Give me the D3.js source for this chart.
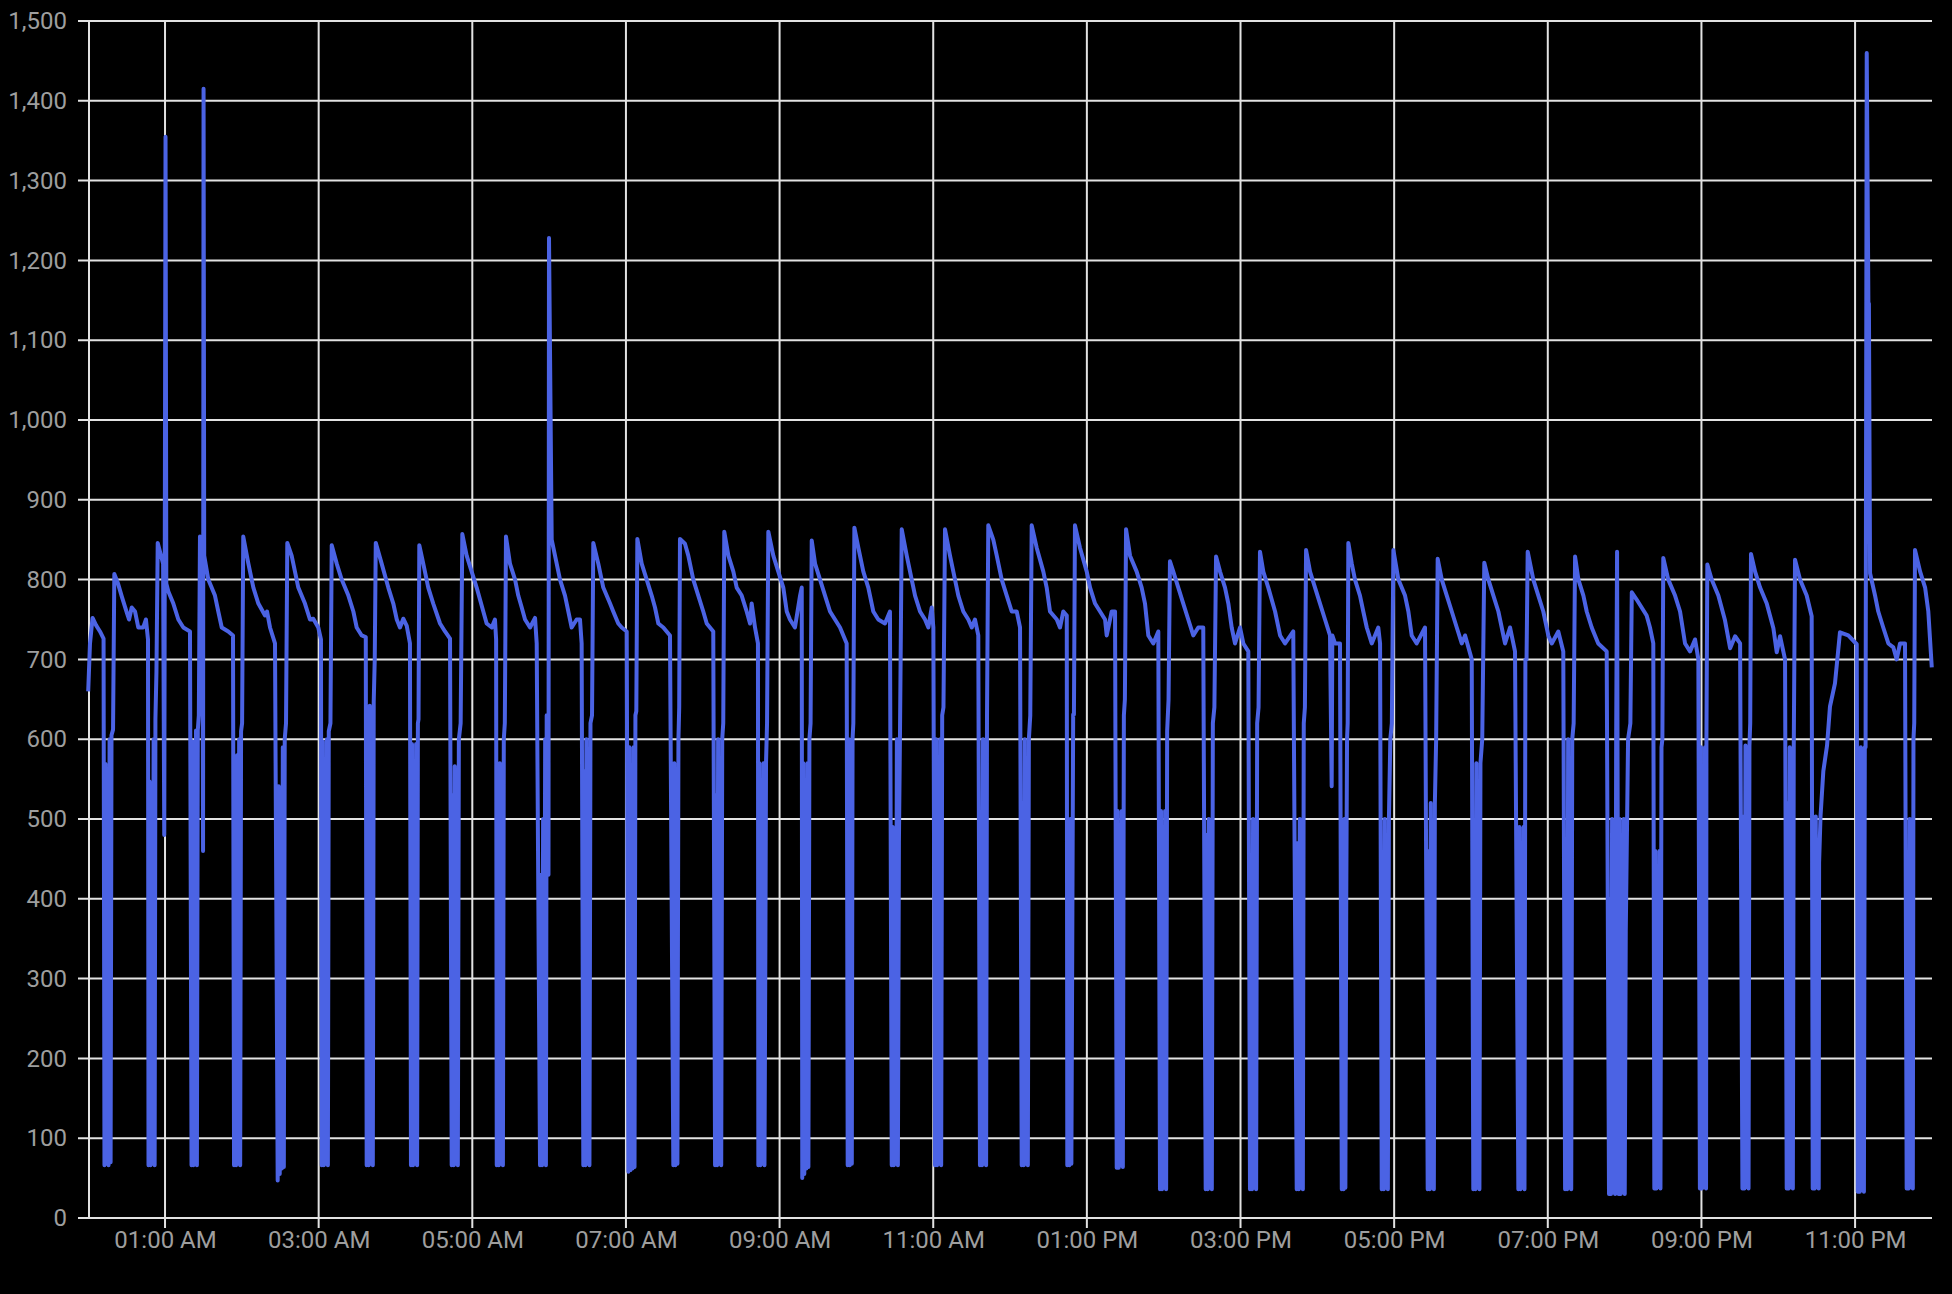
<!DOCTYPE html>
<html><head><meta charset="utf-8">
<script src="https://cdn.jsdelivr.net/npm/d3@7"></script>
<style>
html,body{margin:0;padding:0;background:#000;}
svg{display:block;}
text{font-family:Roboto,"Noto Sans",sans-serif;}
</style></head><body>
<svg id="chart" width="1952" height="1294"></svg>
<script>
// y-axis tick values
const yTicks = [0,100,200,300,400,500,600,700,800,900,1000,1100,1200,1300,1400,1500];
// x-axis ticks (minutes since midnight) and their labels
const xTickMinutes = [60,180,300,420,540,660,780,900,1020,1140,1260,1380];
const xTickLabels = ["01:00 AM","03:00 AM","05:00 AM","07:00 AM","09:00 AM","11:00 AM","01:00 PM","03:00 PM","05:00 PM","07:00 PM","09:00 PM","11:00 PM"];
// time domain (minutes) and value domain
const timeDomain = [0,1440];
const valueDomain = [0,1500];
// readings: [minute of day, value]
const readings = [
[0,660],[1.4,720],[3.4,752],[6.1,743],[9.2,735],[12.0,726],
[12.7,66],[13.5,569],[14.3,68],[15.1,400],[15.9,66],[16.7,600],[17.5,70],[18.2,605],[19.4,612],[20.4,807],
[23.3,795],[26.2,779],[30.1,759],[31.9,750],[34.0,765],[36.6,760],[39.1,740],[43.0,740],[45.1,750],[46.7,725],
[47.1,66],[47.9,547],[48.7,66],[49.5,450],[50.3,68],[51.1,600],[51.9,66],[52.5,625],[53.3,684],[54.3,846],
[56.9,830],[58.5,820],[59.4,480],[60.4,1355],[61.0,795],[62.6,785],[66.5,770],[70.4,750],[74.3,740],[79.5,735],
[80.7,66],[81.4,597],[82.1,66],[82.8,500],[83.5,68],[84.2,611],[84.9,66],[85.6,611],[86.4,630],[87.3,854],
[89.3,850],[89.7,460],[90.1,1415],[90.6,830],[93.8,800],[99.0,780],[101.6,760],[104.3,740],[109.4,735],[113.1,730],
[113.9,66],[114.7,513],[115.5,66],[116.3,580],[117.1,68],[117.9,600],[118.7,66],[119.4,610],[120.2,620],[121.1,854],
[125.1,820],[129.0,790],[132.9,770],[138.1,755],[139.7,760],[142.0,740],[145.9,720],
[148.0,47],[148.8,541],[149.6,55],[150.4,480],[151.2,62],[152.0,590],[152.8,64],[153.5,600],[154.5,620],[155.5,846],
[158.9,830],[164.1,790],[169.3,770],[173.2,750],[175.8,751],[179.7,740],[181.8,725],
[182.4,66],[183.2,597],[184.0,66],[184.8,500],[185.6,68],[186.4,600],[187.2,66],[187.9,610],[189.2,620],[190.2,843],
[194.1,820],[198.0,800],[203.2,780],[207.1,760],[209.7,740],[213.6,730],[216.8,728],
[217.5,66],[218.3,570],[219.1,66],[219.9,642],[220.7,68],[221.5,600],[222.3,66],[223.0,647],[223.8,700],[224.6,846],
[229.2,820],[234.4,790],[238.3,770],[241.0,750],[243.5,740],[246.1,751],[248.8,742],[251.3,720],
[252.1,66],[252.9,594],[253.7,66],[254.5,480],[255.3,68],[256.1,594],[256.9,66],[257.5,620],[258.0,625],[258.6,843],
[261.7,820],[265.6,790],[269.5,770],[274.8,745],[278.7,735],[282.6,726],
[283.9,66],[284.7,530],[285.5,66],[286.3,566],[287.1,68],[287.9,520],[288.7,66],[289.5,600],[290.9,620],[292.2,857],
[295.6,830],[299.5,810],[303.4,790],[308.6,760],[311.2,745],[315.2,740],[317.7,750],[318.6,725],
[319.1,66],[319.9,500],[320.7,66],[321.5,570],[322.3,68],[323.1,480],[323.9,66],[324.6,600],[325.4,620],[326.3,854],
[329.4,820],[333.4,800],[335.9,780],[338.6,765],[341.2,750],[345.1,740],[349.0,752],[350.3,720],
[352.9,66],[353.7,430],[354.5,66],[355.3,500],[356.1,68],[356.9,600],[357.5,66],[358.1,630],[359.5,430],[359.9,1228],
[362.0,850],[364.6,830],[368.5,800],[372.4,780],[375.0,760],[377.6,740],[381.5,750],[384.1,750],[385.4,720],
[386.7,66],[387.5,560],[388.3,66],[389.1,600],[389.9,68],[390.7,520],[391.5,66],[392.3,620],[393.5,630],[394.5,846],
[398.4,820],[402.3,790],[407.6,770],[410.1,760],[414.0,745],[416.7,740],[420.6,735],
[421.9,58],[422.7,590],[423.5,60],[424.3,500],[425.1,62],[425.9,590],[426.7,64],[427.4,630],[428.1,635],[428.9,851],
[432.3,820],[436.2,800],[440.1,780],[442.7,765],[445.3,745],[449.2,740],[454.4,730],
[457.0,66],[457.8,570],[458.6,66],[459.4,500],[460.2,68],[461.0,600],[461.6,640],[462.2,851],
[466.1,845],[468.7,830],[472.6,800],[476.5,780],[480.4,760],[483.1,745],[488.2,735],
[489.6,66],[490.4,530],[491.2,66],[492.0,600],[492.8,68],[493.6,500],[494.4,66],[495.2,600],[496.0,620],[496.8,860],
[500.0,830],[503.9,810],[506.5,790],[510.4,780],[514.3,760],[516.9,745],[518.2,770],[520.8,740],[523.1,720],
[523.4,66],[524.2,570],[525.0,66],[525.8,337],[526.6,68],[527.4,570],[528.2,66],[528.9,337],[529.4,570],[530.2,620],[531.2,860],
[535.1,830],[539.0,810],[542.9,790],[545.6,760],[548.1,750],[552.0,740],[556.0,780],[557.3,790],
[557.7,50],[558.5,570],[559.3,55],[560.1,480],[560.9,62],[561.7,570],[562.5,64],[563.3,600],[564.2,620],[565.1,849],
[567.7,820],[571.6,800],[575.5,780],[579.4,760],[583.3,750],[587.2,740],[592.4,720],
[593.2,66],[594.0,600],[594.8,66],[595.6,500],[596.4,68],[597.0,600],[597.6,620],[598.4,865],
[601.5,840],[605.4,810],[609.3,790],[613.2,760],[617.1,750],[622.3,745],[626.2,760],
[627.6,66],[628.4,490],[629.2,66],[630.0,470],[630.8,68],[631.6,600],[632.4,66],[633.2,470],[634.0,600],[635.4,863],
[639.3,830],[643.2,800],[645.8,780],[649.7,760],[653.6,750],[656.2,740],[658.8,765],[660.1,740],
[661.4,66],[662.2,600],[663.0,66],[663.8,500],[664.6,68],[665.4,600],[666.2,66],[667.0,630],[668.0,640],[669.2,863],
[673.1,830],[677.0,800],[679.6,780],[683.5,760],[687.4,750],[690.1,740],[692.6,750],[695.2,730],
[696.5,66],[697.3,500],[698.1,66],[698.9,600],[699.7,68],[700.5,500],[701.3,66],[702.0,630],[703.0,868],
[706.9,850],[709.6,830],[713.5,800],[717.4,780],[721.3,760],[725.2,760],[727.8,740],
[729.1,66],[729.9,520],[730.7,66],[731.5,600],[732.3,68],[733.1,520],[733.9,66],[734.7,600],[735.8,630],[736.9,868],
[740.8,840],[746.0,810],[748.6,790],[751.2,760],[756.5,750],[759.0,740],[761.6,760],[764.3,755],
[764.7,66],[765.5,470],[766.3,66],[767.1,500],[767.9,68],[768.7,385],[769.3,631],[769.9,631],[770.7,868],
[774.6,840],[779.9,810],[782.5,790],[786.4,770],[790.3,760],[794.2,750],[795.5,730],[799.4,760],[802.0,760],
[803.3,63],[804.1,510],[804.9,63],[805.7,400],[806.5,66],[807.3,510],[808.1,64],[808.9,630],[809.7,650],[810.6,863],
[813.7,830],[818.9,810],[822.8,790],[825.4,770],[828.0,730],[831.9,720],[835.8,735],
[837.1,36],[837.9,510],[838.7,36],[839.5,420],[840.3,38],[841.1,510],[841.9,36],[842.7,610],[843.8,650],[844.9,823],
[847.5,810],[851.4,790],[855.3,770],[859.2,750],[863.1,730],[867.0,740],[870.9,740],
[872.8,36],[873.6,480],[874.4,36],[875.2,500],[876.0,38],[876.8,400],[877.6,36],[878.4,620],[879.6,640],[880.9,829],
[884.0,810],[887.9,790],[890.5,770],[893.1,740],[895.7,720],[899.6,740],[902.2,720],[906.1,710],
[907.4,36],[908.2,400],[909.0,36],[909.8,500],[910.6,38],[911.4,400],[912.2,36],[913.0,620],[914.1,640],[915.2,835],
[917.8,810],[921.7,790],[927.0,760],[930.9,730],[934.8,720],[941.2,735],
[943.9,36],[944.7,470],[945.5,36],[946.3,500],[947.1,38],[947.9,470],[948.7,36],[949.4,620],[950.3,640],[951.2,837],
[954.3,810],[958.2,790],[962.1,770],[966.0,750],[969.9,730],[971.2,541],[971.7,730],[973.8,720],[977.7,720],
[979.1,36],[979.8,400],[980.5,36],[981.2,500],[981.9,38],[982.6,400],[983.2,600],[983.7,620],[984.2,846],
[986.9,820],[989.4,800],[993.3,780],[995.9,760],[998.6,740],[1002.5,720],[1007.6,740],[1009.0,720],
[1010.3,36],[1011.1,450],[1011.9,36],[1012.7,500],[1013.5,38],[1014.3,450],[1015.1,36],[1015.9,500],[1017.0,600],[1018.2,620],[1019.4,837],
[1023.3,800],[1028.5,780],[1031.1,760],[1033.7,730],[1037.6,720],[1044.1,740],
[1046.2,36],[1047.0,460],[1047.8,36],[1048.6,520],[1049.4,38],[1050.2,460],[1051.0,36],[1051.8,520],[1052.8,600],[1054.0,826],
[1057.2,800],[1061.1,780],[1065.0,760],[1068.9,740],[1072.8,720],[1075.4,730],[1080.6,700],
[1081.8,36],[1082.6,430],[1083.4,36],[1084.2,570],[1085.0,38],[1085.8,430],[1086.6,36],[1087.4,570],[1088.8,600],[1090.4,821],
[1093.6,800],[1097.5,780],[1101.4,760],[1104.0,740],[1106.6,720],[1110.5,740],[1114.4,710],
[1117.0,36],[1117.8,490],[1118.6,36],[1119.4,420],[1120.2,38],[1121.0,490],[1121.8,36],[1122.5,700],[1123.4,700],[1124.3,835],
[1128.7,800],[1132.6,780],[1136.5,760],[1140.4,730],[1143.1,720],[1148.2,735],[1152.1,710],
[1153.5,36],[1154.3,450],[1155.1,36],[1155.9,600],[1156.7,38],[1157.5,450],[1158.3,36],[1159.1,600],[1160.2,620],[1161.3,829],
[1163.9,800],[1167.8,780],[1170.4,760],[1174.3,740],[1179.4,720],[1186.0,710],
[1187.8,30],[1188.6,400],[1189.4,30],[1190.2,500],[1191.0,32],[1191.8,400],[1192.6,30],[1193.4,600],[1194.1,835],
[1195.3,30],[1196.1,500],[1196.9,30],[1197.7,400],[1198.5,32],[1199.3,500],[1200.1,30],[1200.9,360],[1202.7,600],[1204.5,620],[1205.6,784],
[1209.4,775],[1213.3,765],[1217.2,755],[1219.8,740],[1222.4,720],
[1223.2,37],[1224.0,460],[1224.8,37],[1225.6,370],[1226.4,39],[1227.2,460],[1228.0,37],[1228.8,590],[1229.5,600],[1230.2,827],
[1234.1,800],[1239.4,780],[1243.3,760],[1247.2,720],[1251.1,710],[1255.0,725],[1257.6,700],
[1258.0,459],[1258.8,37],[1259.6,590],[1260.4,37],[1261.2,370],[1262.0,39],[1262.8,590],[1263.6,37],[1263.9,600],[1264.6,819],
[1268.0,800],[1273.2,780],[1278.4,749],[1282.4,714],[1286.3,729],[1290.2,720],
[1292.0,37],[1292.8,503],[1293.6,37],[1294.4,592],[1295.2,39],[1296.0,503],[1296.8,37],[1297.5,592],[1298.1,620],[1298.7,832],
[1301.9,810],[1305.8,790],[1311.0,770],[1316.2,739],[1318.8,709],[1321.4,729],[1325.3,700],
[1326.6,37],[1327.4,520],[1328.2,37],[1329.0,590],[1329.8,39],[1330.6,520],[1331.4,37],[1332.1,590],[1333.1,825],
[1337.0,800],[1342.2,780],[1346.1,754],
[1346.9,37],[1347.7,346],[1348.5,37],[1349.3,503],[1350.1,39],[1350.9,346],[1351.6,37],[1351.9,445],[1353.0,503],
[1355.2,560],[1358.1,592],[1360.4,641],[1364.3,670],[1368.2,734],[1374.7,730],[1381.3,719],
[1382.1,33],[1382.9,445],[1383.7,33],[1384.5,590],[1385.3,35],[1386.1,445],[1386.9,33],[1387.6,590],[1388.2,590],[1389.1,1460],[1390.4,1146],[1390.8,1146],[1391.7,808],
[1395.6,780],[1398.1,760],[1402.0,740],[1406.0,720],[1409.9,715],[1412.5,700],[1415.1,720],[1419.0,720],
[1420.3,37],[1421.1,370],[1421.9,37],[1422.7,500],[1423.5,39],[1424.3,234],[1425.1,37],[1425.6,600],[1426.2,620],[1426.8,837],
[1430.8,810],[1434.7,790],[1437.2,760],[1439.9,690]
];

const W = 1952, H = 1294;
const plotLeft = 89, plotRight = 1932, plotTop = 21, plotBottom = 1218;
const gridColor = "#e2e2e2", labelColor = "#9e9e9e", lineColor = "#4b63e4";

const svg = d3.select("#chart");
svg.append("rect").attr("width", W).attr("height", H).attr("fill", "#000");

const x = d3.scaleLinear().domain(timeDomain).range([88.2, 1931.9]);
const y = d3.scaleLinear().domain(valueDomain).range([plotBottom, plotTop]);

// horizontal grid (incl. short left tick)
svg.append("g").selectAll("line").data(yTicks).join("line")
  .attr("x1", plotLeft - 11).attr("x2", plotRight)
  .attr("y1", d => y(d)).attr("y2", d => y(d))
  .attr("stroke", gridColor).attr("stroke-width", 2);

// vertical grid (incl. short bottom tick)
svg.append("g").selectAll("line").data(xTickMinutes).join("line")
  .attr("x1", d => x(d)).attr("x2", d => x(d))
  .attr("y1", plotTop).attr("y2", plotBottom + 10)
  .attr("stroke", gridColor).attr("stroke-width", 2);

// y axis line
svg.append("line").attr("x1", plotLeft).attr("x2", plotLeft)
  .attr("y1", plotTop).attr("y2", plotBottom)
  .attr("stroke", gridColor).attr("stroke-width", 2);

// y axis labels
const yAxis = d3.axisLeft(y).tickValues(yTicks).tickSize(0).tickPadding(22).tickFormat(d3.format(","));
const gy = svg.append("g").attr("transform", `translate(${plotLeft},0)`).call(yAxis);
gy.select(".domain").remove();
gy.selectAll("text").attr("fill", labelColor).style("font-size", "24px").style("font-family", "Roboto");

// x axis labels
const xAxis = d3.axisBottom(x).tickValues(xTickMinutes).tickSize(0).tickPadding(13)
  .tickFormat((d, i) => xTickLabels[i]);
const gx = svg.append("g").attr("transform", `translate(0,${plotBottom})`).call(xAxis);
gx.select(".domain").remove();
gx.selectAll("text").attr("fill", labelColor).style("font-size", "24px").style("font-family", "Roboto");

// data line
const line = d3.line().x(d => x(d[0])).y(d => y(d[1]));
svg.append("path").datum(readings)
  .attr("d", line)
  .attr("fill", "none")
  .attr("stroke", lineColor)
  .attr("stroke-width", 4)
  .attr("stroke-linejoin", "round");
</script>
</body></html>
